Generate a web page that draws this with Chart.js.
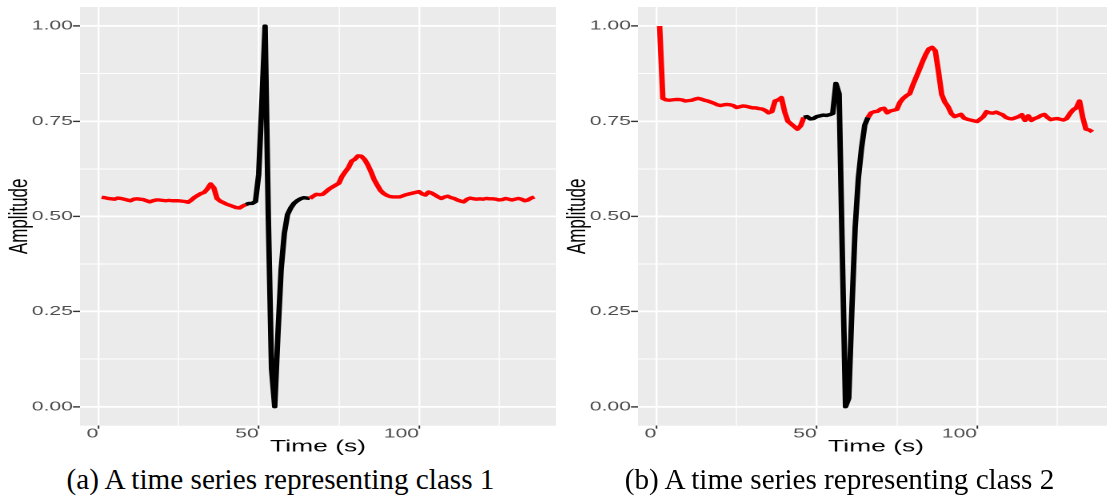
<!DOCTYPE html>
<html>
<head>
<meta charset="utf-8">
<title>Time series by class</title>
<script src="https://cdn.jsdelivr.net/npm/chart.js@4.4.1/dist/chart.umd.min.js"></script>
<style>
	html, body { margin: 0; padding: 0; background: #fff; }
	body { position: relative; width: 1107px; height: 501px; overflow: hidden; }
	.panel { position: absolute; top: 0; width: 560px; height: 460px; }
	#panelA { left: 0; }
	#panelB { left: 558px; }
	.caption {
		position: absolute; top: 465px; width: 560px; text-align: center;
		font-family: 'Liberation Serif', 'DejaVu Serif', serif; font-size: 29.2px;
		line-height: 1; color: #000; white-space: nowrap;
	}
	#captionA { left: 0.5px; }
	#captionB { left: 559.5px; }
</style>
</head>
<body>
<div class="panel" id="panelA"><canvas id="chartA" width="350" height="460" style="width:560px;height:460px"></canvas></div>
<div class="panel" id="panelB"><canvas id="chartB" width="350" height="460" style="width:560px;height:460px"></canvas></div>
<div class="caption" id="captionA">(a) A time series representing class 1</div>
<div class="caption" id="captionB">(b) A time series representing class 2</div>

<script>
// amplitude per time step (t = 1 .. 136)
const class1Amplitude = [
	0.550, 0.549, 0.547, 0.546, 0.545, 0.548, 0.547, 0.545, 0.543, 0.541,
	0.545, 0.546, 0.545, 0.544, 0.541, 0.538, 0.541, 0.543, 0.543, 0.542,
	0.541, 0.542, 0.541, 0.541, 0.541, 0.540, 0.539, 0.537, 0.543, 0.550,
	0.555, 0.560, 0.563, 0.572, 0.585, 0.575, 0.547, 0.540, 0.536, 0.532,
	0.529, 0.526, 0.523, 0.522, 0.527, 0.531, 0.534, 0.534, 0.539, 0.610,
	0.800, 1.000, 0.500, 0.100, 0.000, 0.190, 0.360, 0.455, 0.505, 0.522,
	0.534, 0.541, 0.546, 0.549, 0.548, 0.547, 0.553, 0.558, 0.557, 0.558,
	0.565, 0.572, 0.577, 0.582, 0.587, 0.605, 0.617, 0.628, 0.645, 0.650,
	0.659, 0.658, 0.650, 0.636, 0.618, 0.597, 0.582, 0.568, 0.560, 0.555,
	0.552, 0.551, 0.551, 0.551, 0.554, 0.557, 0.559, 0.561, 0.563, 0.565,
	0.559, 0.556, 0.564, 0.561, 0.556, 0.551, 0.547, 0.551, 0.553, 0.549,
	0.547, 0.543, 0.540, 0.538, 0.545, 0.548, 0.546, 0.545, 0.546, 0.545,
	0.547, 0.546, 0.546, 0.545, 0.543, 0.544, 0.547, 0.545, 0.543, 0.545,
	0.547, 0.545, 0.541, 0.543, 0.548, 0.551,
];

const class2Amplitude = [
	1.000, 0.810, 0.806, 0.805, 0.806, 0.807, 0.807, 0.806, 0.803, 0.804,
	0.805, 0.808, 0.810, 0.808, 0.805, 0.803, 0.800, 0.797, 0.793, 0.791,
	0.793, 0.794, 0.793, 0.791, 0.786, 0.788, 0.790, 0.789, 0.787, 0.785,
	0.785, 0.783, 0.782, 0.778, 0.772, 0.775, 0.803, 0.806, 0.812, 0.775,
	0.750, 0.743, 0.736, 0.729, 0.738, 0.760, 0.762, 0.756, 0.757, 0.762,
	0.764, 0.766, 0.765, 0.767, 0.770, 0.849, 0.822, 0.400, 0.000, 0.022,
	0.260, 0.470, 0.600, 0.680, 0.740, 0.760, 0.772, 0.775, 0.776, 0.782,
	0.784, 0.772, 0.777, 0.779, 0.781, 0.800, 0.810, 0.817, 0.822, 0.845,
	0.865, 0.885, 0.906, 0.925, 0.940, 0.944, 0.935, 0.880, 0.820, 0.800,
	0.788, 0.770, 0.762, 0.765, 0.768, 0.758, 0.755, 0.753, 0.751, 0.749,
	0.755, 0.762, 0.775, 0.772, 0.771, 0.774, 0.770, 0.767, 0.760, 0.757,
	0.756, 0.759, 0.762, 0.767, 0.752, 0.764, 0.752, 0.757, 0.760, 0.765,
	0.768, 0.760, 0.754, 0.756, 0.757, 0.755, 0.753, 0.757, 0.770, 0.780,
	0.785, 0.803, 0.760, 0.729, 0.727, 0.722,
];

// time range (inclusive) drawn in black
const class1Highlight = [46, 66];
const class2Highlight = [46, 66];

const xTickValues = [0, 50, 100];
const xTickLabels = ['0', '50', '100'];
const yTickValues = [0, 0.25, 0.5, 0.75, 1];
const yTickLabels = ['0.00', '0.25', '0.50', '0.75', '1.00'];

const panelBackground = {
	id: 'panelBackground',
	beforeDraw(chart) {
		const { ctx, chartArea } = chart;
		ctx.save();
		ctx.fillStyle = '#EBEBEB';
		ctx.fillRect(chartArea.left, chartArea.top, chartArea.right - chartArea.left, chartArea.bottom - chartArea.top);
		ctx.restore();
	},
};

document.addEventListener('DOMContentLoaded', () => {
	createSeriesChart('chartA', class1Amplitude, class1Highlight);
	createSeriesChart('chartB', class2Amplitude, class2Highlight);
});

function tickLabel(values, labels, value) {
	const i = values.findIndex((v) => Math.abs(v - value) < 1e-9);
	return i >= 0 ? labels[i] : '';
}

function isMajor(values, ctx) {
	return ctx.tick ? values.some((v) => Math.abs(v - ctx.tick.value) < 1e-9) : true;
}

// canvases are drawn 350 wide and shown 560 wide, the plots in the figure are stretched sideways
function createSeriesChart(canvasId, amplitude, highlight) {
	const points = amplitude.map((value, i) => ({ x: i + 1, y: value }));
	const inHighlight = (ctx) => {
		const a = points[ctx.p0DataIndex].x;
		const b = points[ctx.p1DataIndex].x;
		return a >= highlight[0] && b <= highlight[1];
	};

	const tickFont = { family: "'Liberation Sans', Arial, sans-serif", size: 13.2, lineHeight: 1.2 };
	const titleFont = { family: "'Liberation Sans', Arial, sans-serif", lineHeight: 1.2 };

	const ctx = document.getElementById(canvasId).getContext('2d');
	return new Chart(ctx, {
		type: 'line',
		data: {
			datasets: [
				{
					data: points,
					borderColor: '#FF0000',
					borderWidth: 3.4,
					borderJoinStyle: 'round',
					pointRadius: 0,
					tension: 0,
					fill: false,
					segment: {
						borderColor: (c) => (inHighlight(c) ? '#000000' : '#FF0000'),
					},
				},
			],
		},
		options: {
			responsive: false,
			animation: false,
			devicePixelRatio: 2,
			layout: { padding: { top: 7, right: 2.5, bottom: 0, left: 0 } },
			plugins: { legend: { display: false }, tooltip: { enabled: false } },
			scales: {
				x: {
					type: 'linear',
					min: -5.75,
					max: 142.75,
					afterFit: (scale) => {
						scale.height = 34.3;
						scale.paddingLeft = 0;
						scale.paddingRight = 0;
					},
					border: { display: false },
					grid: {
						color: '#FFFFFF',
						lineWidth: (c) => (isMajor(xTickValues, c) ? 1.2 : 0.7),
						tickLength: 3,
						tickWidth: 1,
						tickColor: (c) => (isMajor(xTickValues, c) ? '#333333' : 'rgba(0,0,0,0)'),
					},
					ticks: {
						stepSize: 25,
						includeBounds: false,
						autoSkip: false,
						maxRotation: 0,
						align: 'end',
						padding: -3,
						color: '#4D4D4D',
						font: tickFont,
						callback: (value) => tickLabel(xTickValues, xTickLabels, value),
					},
					title: {
						display: true,
						text: 'Time (s)',
						color: '#000000',
						font: { ...titleFont, size: 16.5 },
						padding: { top: 0, bottom: 3.1 },
					},
				},
				y: {
					min: -0.05,
					max: 1.05,
					afterFit: (scale) => {
						scale.width = 50;
						scale.paddingTop = 0;
						scale.paddingBottom = 0;
					},
					border: { display: false },
					grid: {
						color: '#FFFFFF',
						lineWidth: (c) => (isMajor(yTickValues, c) ? 1.8 : 1.0),
						tickLength: 4.4,
						tickWidth: 1.4,
						tickColor: (c) => (isMajor(yTickValues, c) ? '#333333' : 'rgba(0,0,0,0)'),
					},
					ticks: {
						stepSize: 0.125,
						includeBounds: false,
						autoSkip: false,
						padding: 0,
						color: '#4D4D4D',
						font: tickFont,
						callback: (value) => tickLabel(yTickValues, yTickLabels, value),
					},
					title: {
						display: true,
						text: 'Amplitude',
						color: '#000000',
						font: { ...titleFont, size: 17 },
						padding: { top: 1.9, bottom: 0 },
					},
				},
			},
		},
		plugins: [panelBackground],
	});
}
</script>
</body>
</html>
